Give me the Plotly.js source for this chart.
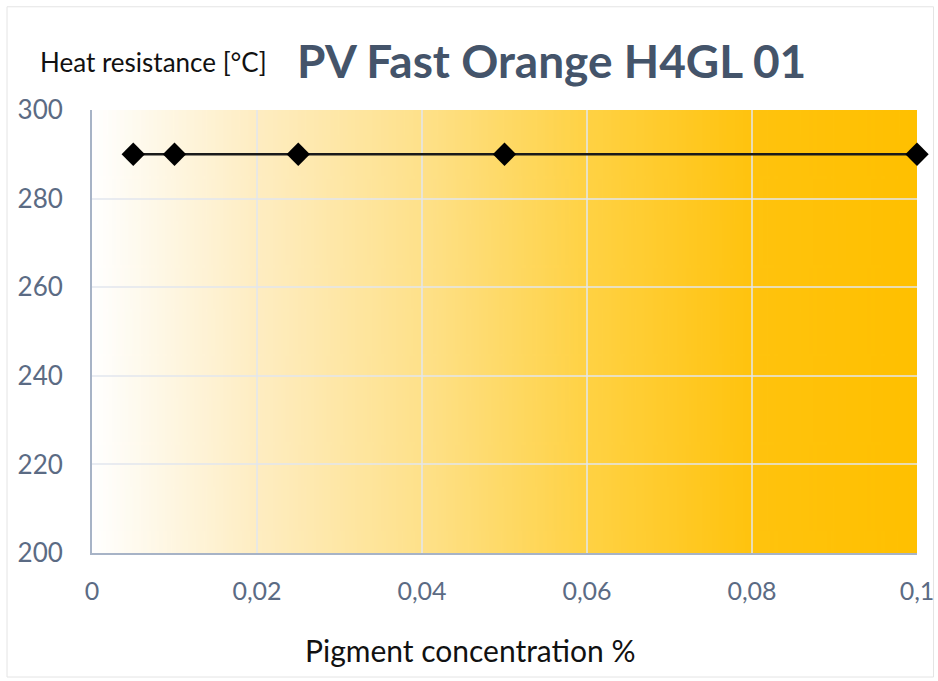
<!DOCTYPE html>
<html>
<head>
<meta charset="utf-8">
<script src="https://cdn.plot.ly/plotly-3.0.1.min.js"></script>
<style>
html,body{margin:0;padding:0;background:#fff;}
#chart{width:938px;height:681px;}
</style>
</head>
<body>
<div id="chart"></div>
<script>
// Data
var concentration = [0.005, 0.01, 0.025, 0.05, 0.1];
var heatResistance = [290, 290, 290, 290, 290];
var xTicks = [0, 0.02, 0.04, 0.06, 0.08, 0.1];
var yTicks = [200, 220, 240, 260, 280, 300];
var chartTitle = 'PV Fast Orange H4GL 01';
var yTitle = 'Heat resistance [°C]';
var xTitle = 'Pigment concentration %';

// Background gradient image
var cv = document.createElement('canvas');
cv.width = 400; cv.height = 10;
var ctx = cv.getContext('2d');
var g = ctx.createLinearGradient(0, 0, 400, 0);
g.addColorStop(0, '#FFFFFF');
g.addColorStop(0.2, '#FEEDC2');
g.addColorStop(0.4, '#FEE18A');
g.addColorStop(0.6, '#FFD244');
g.addColorStop(0.8, '#FFC30E');
g.addColorStop(1, '#FFC000');
ctx.fillStyle = g;
ctx.fillRect(0, 0, 400, 10);
var bgURL = cv.toDataURL('image/png');

var fontFam = 'Lato, "Open Sans", sans-serif';
var tickColor = '#5B6B84';

var trace = {
  x: concentration,
  y: heatResistance,
  type: 'scatter',
  mode: 'lines+markers',
  line: {color: '#1a1a1a', width: 2.5},
  marker: {symbol: 'diamond', size: 18, color: '#000000'},
  cliponaxis: false,
  hoverinfo: 'x+y'
};

var layout = {
  width: 938, height: 681,
  margin: {l: 92, r: 21, t: 110, b: 128},
  paper_bgcolor: '#FFFFFF',
  plot_bgcolor: 'rgba(0,0,0,0)',
  separators: ',.',
  showlegend: false,
  font: {family: fontFam, color: tickColor},
  xaxis: {
    range: [0, 0.1],
    tickvals: xTicks,
    showgrid: true,
    gridcolor: 'rgba(225,230,238,0.75)',
    gridwidth: 2,
    zeroline: false,
    showline: true,
    linecolor: '#A7B3C6',
    linewidth: 2,
    ticks: '',
    ticklabelstandoff: 15,
    tickfont: {size: 25, color: tickColor, family: fontFam},
    fixedrange: true
  },
  yaxis: {
    range: [200, 300],
    tickvals: yTicks,
    showgrid: true,
    gridcolor: 'rgba(225,230,238,0.75)',
    gridwidth: 2,
    zeroline: false,
    showline: true,
    linecolor: '#A7B3C6',
    linewidth: 2,
    ticks: '',
    ticklabelstandoff: 22,
    tickfont: {size: 26, color: tickColor, family: fontFam},
    fixedrange: true
  },
  images: [{
    source: bgURL,
    xref: 'x', yref: 'y',
    x: 0, y: 300, sizex: 0.1, sizey: 100,
    sizing: 'stretch',
    xanchor: 'left', yanchor: 'top',
    layer: 'below'
  }],
  annotations: [
    {
      text: chartTitle,
      xref: 'paper', yref: 'paper',
      x: 0.557, y: 1.0, yshift: 50,
      xanchor: 'center', yanchor: 'middle',
      showarrow: false,
      font: {family: fontFam, size: 46, color: '#44546A', weight: 'bold'}
    },
    {
      text: yTitle,
      xref: 'paper', yref: 'paper',
      x: -0.066, y: 1.0, yshift: 48,
      xanchor: 'left', yanchor: 'middle',
      showarrow: false,
      font: {family: fontFam, size: 26, color: '#111111'}
    },
    {
      text: xTitle,
      xref: 'paper', yref: 'paper',
      x: 0.459, y: 0, yshift: -97,
      xanchor: 'center', yanchor: 'middle',
      showarrow: false,
      font: {family: fontFam, size: 30, color: '#111111'}
    }
  ],
  shapes: [{
    type: 'rect', xref: 'paper', yref: 'paper',
    x0: -0.103, x1: 1.02, y0: -0.28, y1: 1.233,
    line: {color: '#E4E4E4', width: 1},
    fillcolor: 'rgba(0,0,0,0)',
    layer: 'below'
  }]
};

Plotly.newPlot('chart', [trace], layout, {displayModeBar: false, staticPlot: true});
</script>
</body>
</html>
